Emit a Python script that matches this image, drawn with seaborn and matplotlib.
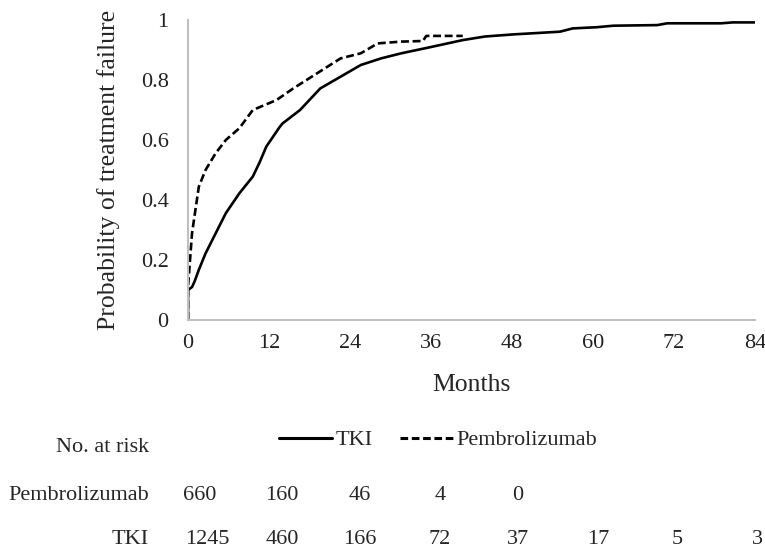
import pandas as pd
import matplotlib.pyplot as plt
import seaborn as sns
from matplotlib.lines import Line2D

# Cumulative probability of treatment failure
tki_months = [0, 0, 0.6, 1.0, 1.6, 2.6, 4.1, 5.6, 7.6, 9.6, 10.6, 11.6, 13.6, 14.0,
              16.6, 19.6, 22.6, 25.6, 28.6, 31.6, 36.0, 40.7, 44.0, 48.2, 55.1,
              57.0, 60.6, 63.0, 69.5, 71.0, 79.0, 80.7, 84.0]
tki_prob = [0, 0.10, 0.11, 0.13, 0.167, 0.222, 0.289, 0.356, 0.422, 0.478, 0.525,
            0.578, 0.644, 0.655, 0.70, 0.772, 0.811, 0.85, 0.872, 0.889, 0.91,
            0.933, 0.945, 0.952, 0.961, 0.972, 0.976, 0.981, 0.983, 0.989, 0.989,
            0.992, 0.992]

pem_months = [0, 0, 0.6, 1.6, 2.6, 4.1, 5.6, 7.6, 9.6, 13.1, 15.6, 19.1, 22.6,
              25.6, 28.1, 31.6, 34.8, 35.3, 40.7]
pem_prob = [0, 0.11, 0.29, 0.444, 0.5, 0.556, 0.6, 0.639, 0.70, 0.733, 0.772,
            0.822, 0.872, 0.889, 0.922, 0.928, 0.93, 0.947, 0.947]

# Numbers at risk
risk_months = [0, 12, 24, 36, 48, 60, 72, 84]
pem_at_risk = [660, 160, 46, 4, 0]
tki_at_risk = [1245, 460, 166, 72, 37, 17, 5, 3]

y_ticks = [0, 0.2, 0.4, 0.6, 0.8, 1]
y_tick_labels = ['0', '0.2', '0.4', '0.6', '0.8', '1']

df = pd.concat([
    pd.DataFrame({'Months': tki_months, 'Prob': tki_prob, 'Group': 'TKI'}),
    pd.DataFrame({'Months': pem_months, 'Prob': pem_prob, 'Group': 'Pembrolizumab'}),
], ignore_index=True)

sns.set_style('white')
plt.rcParams['font.family'] = ['Liberation Serif', 'DejaVu Serif']

fig = plt.figure(figsize=(7.65, 5.49), dpi=100)
ax = fig.add_axes([188 / 765, 1 - 320 / 549, 567 / 765, 300 / 549])

sns.lineplot(data=df, x='Months', y='Prob', hue='Group', style='Group',
             palette={'TKI': 'black', 'Pembrolizumab': 'black'},
             dashes={'TKI': '', 'Pembrolizumab': (3, 1.4)},
             estimator=None, sort=False, linewidth=1.9, legend=False, ax=ax)

ax.set_xlim(0, 84)
ax.set_ylim(0, 1)
ax.set_xticks(risk_months)
ax.set_yticks(y_ticks)
ax.set_yticklabels(y_tick_labels)
ax.tick_params(axis='both', direction='out', length=5, width=1.5, color='#bfbfbf',
               labelsize=16, labelcolor='#222222')
ax.tick_params(axis='y', pad=9)
ax.tick_params(axis='x', pad=5)
for side in ['top', 'right']:
    ax.spines[side].set_visible(False)
for side in ['left', 'bottom']:
    ax.spines[side].set_color('#bfbfbf')
    ax.spines[side].set_linewidth(1.5)

ax.set_xlabel('Months', fontsize=18.5, labelpad=15)
ax.set_ylabel('Probability of treatment failure', fontsize=18.5, labelpad=15)

# legend below the chart
handles = [Line2D([], [], color='black', lw=2.2, ls='-'),
           Line2D([], [], color='black', lw=2.2, ls=(0, (2.5, 1.2)))]
fig.legend(handles, ['TKI', 'Pembrolizumab'], loc='center',
           bbox_to_anchor=(438 / 765, 1 - 440 / 549), ncol=2, frameon=False,
           fontsize=16, handlelength=2.4, handletextpad=0.15, columnspacing=1.2)

# risk table
fs = 16
label_x = 149 / 765
fig.text(label_x, 1 - 448 / 549, 'No. at risk', ha='right', va='center', fontsize=fs)
fig.text(label_x, 1 - 495 / 549, 'Pembrolizumab', ha='right', va='center', fontsize=fs)
fig.text(label_x, 1 - 540 / 549, 'TKI', ha='right', va='center', fontsize=fs)

col_px = [200, 282, 360, 440, 518, 598, 677, 757]
for px, n in zip(col_px, pem_at_risk):
    fig.text(px / 765, 1 - 495 / 549, str(n), ha='center', va='center', fontsize=fs)
for i, (px, n) in enumerate(zip(col_px, tki_at_risk)):
    if i == 0:
        px = 207
    fig.text(px / 765, 1 - 540 / 549, str(n), ha='center', va='center', fontsize=fs)

plt.savefig('out.png', dpi=100)
